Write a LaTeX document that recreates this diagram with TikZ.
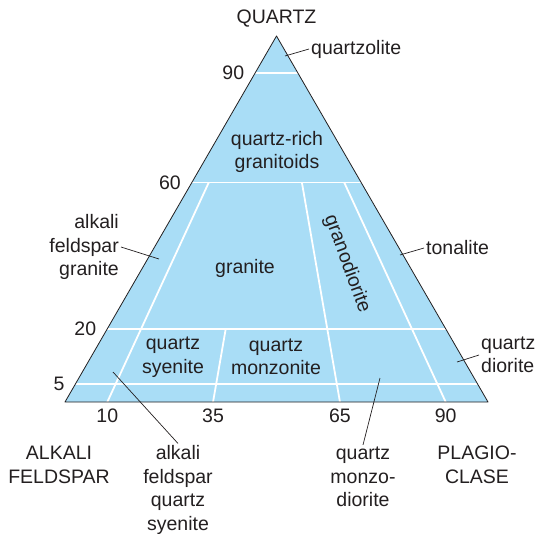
\documentclass[tikz,border=0pt]{standalone}
\usepackage{fontspec}
\setmainfont{Liberation Sans}
\usepackage{tikz}
\usetikzlibrary{positioning,calc}
\definecolor{fieldblue}{HTML}{A9DDF6}
\definecolor{inkgray}{HTML}{231F20}

\begin{document}
\begin{tikzpicture}[x=1pt, y=-1pt,
  every node/.style = {text=inkgray, inner sep=2pt,
                       font=\fontsize{19.5}{23.5}\selectfont},
  lbl/.style  = {align=center},
  num/.style  = {inner sep=1pt},
  field/.style= {white, line width=1.8pt},
  rim/.style  = {draw=inkgray, line width=0.8pt, line join=round},
  lead/.style = {draw=inkgray, line width=0.7pt}
]
\useasboundingbox (0,0) rectangle (540,533);

% ,  Corners of the QAP triangle ,
\coordinate (A) at (65,402);
\coordinate (P) at (488,402);
\coordinate (Q) at (276.5,36);

% ,  Quartz levels on both sides, ratio points on the base ,
\foreach \q in {5,20,60,90} {
  \coordinate (L\q) at ($(A)!{\q/100}!(Q)$);
  \coordinate (R\q) at ($(P)!{\q/100}!(Q)$);
}
\foreach \r in {10,35,65,90}
  \coordinate (B\r) at ($(A)!{\r/100}!(P)$);

% ,  Filled field and white boundaries ,
\fill[fieldblue] (A) -- (P) -- (Q) -- cycle;
\foreach \q in {5,20,60,90}
  \draw[field] (L\q) -- (R\q);
\draw[field] (B10) -- ($(B10)!0.6!(Q)$);
\draw[field] (B35) -- ($(B35)!0.2!(Q)$);
\draw[field] (B65) -- ($(B65)!0.6!(Q)$);
\draw[field] (B90) -- ($(B90)!0.6!(Q)$);
\draw[rim] (A) -- (P) -- (Q) -- cycle;

% ,  Scale numbers ,
\foreach \q in {5,20,60,90}
  \node[num, left=10pt of L\q] (n\q) {\q};
\foreach \r in {10,35,65,90}
  \node[num, below=6pt of B\r] (b\r) {\r};

% ,  Corner names ,
\node[lbl] (quartz) at (276.5,19)  {QUARTZ};
\node[lbl] (alkfs)  at (59,465)    {ALKALI\\FELDSPAR};
\node[lbl] (plag)   at (477,465)   {PLAGIO-\\CLASE};

% ,  Field names inside ,
\node[lbl] (qrg)    at (277,152)   {quartz-rich\\granitoids};
\node[lbl] (gran)   at (245,268)   {granite};
\node[lbl, rotate=-70] (grd) at (347,264) {granodiorite};
\node[lbl] (qsy)    at (173,357)   {quartz\\syenite};
\node[lbl] (qmz)    at (276,357)   {quartz\\monzonite};

% ,  Field names outside, with leaders ,
\node[anchor=west] (qzl)  at (309,49)  {quartzolite};
\node[align=right, anchor=east] (afg) at (121,247) {alkali\\feldspar\\granite};
\node[anchor=west] (ton)  at (424,248) {tonalite};
\node[align=left, anchor=west] (qdi) at (479,355) {quartz\\diorite};
\node[lbl] (afqs)   at (178,490)   {alkali\\feldspar\\quartz\\syenite};
\node[lbl] (qmd)    at (363,477)   {quartz\\monzo-\\diorite};

\coordinate (c-qzl)  at (285,56);
\coordinate (c-afg)  at (159,259);
\coordinate (c-ton)  at (400,255);
\coordinate (c-qdi)  at (457,362);
\coordinate (c-afqs) at (113,372);
\coordinate (c-qmd)  at (380,378);

\draw[lead] (c-qzl)  -- (qzl.west);
\draw[lead] (c-afg)  -- (afg.east);
\draw[lead] (c-ton)  -- (ton.west);
\draw[lead] (c-qdi)  -- (qdi.west);
\draw[lead] (c-afqs) -- (afqs.north);
\draw[lead] (c-qmd)  -- (qmd.north);

\end{tikzpicture}
\end{document}
